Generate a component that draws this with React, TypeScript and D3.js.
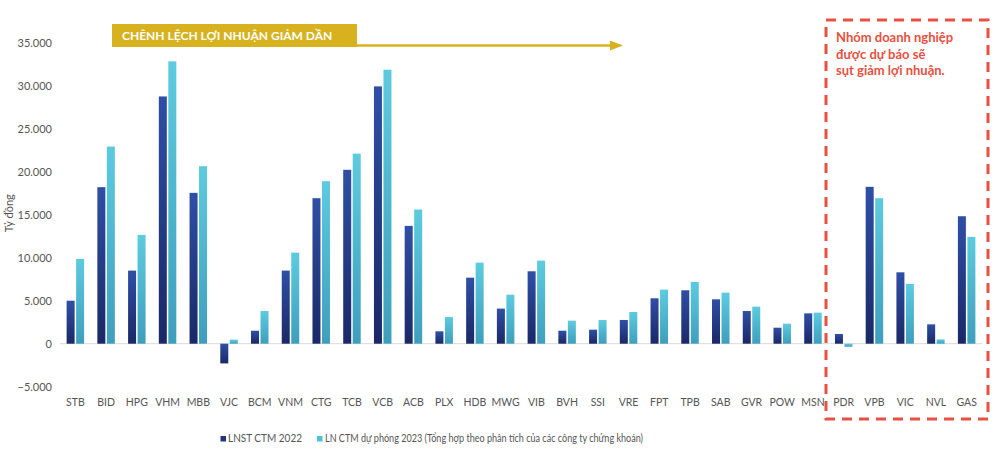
import React from "react";
import * as d3 from "d3";

const categories = ["STB","BID","HPG","VHM","MBB","VJC","BCM","VNM","CTG","TCB","VCB","ACB","PLX","HDB","MWG","VIB","BVH","SSI","VRE","FPT","TPB","SAB","GVR","POW","MSN","PDR","VPB","VIC","NVL","GAS"];
const lnst2022 = [5000,18200,8500,28750,17540,-2290,1510,8500,16920,20220,29920,13700,1440,7680,4080,8420,1510,1630,2760,5280,6210,5160,3800,1860,3530,1130,18240,8300,2250,14820];
const ln2023 = [9860,22930,12650,32830,20640,470,3800,10590,18900,22100,31860,15600,3100,9430,5700,9660,2680,2760,3690,6290,7180,5940,4310,2330,3610,-350,16920,6950,500,12420];
const yTicks = [-5000,0,5000,10000,15000,20000,25000,30000,35000];
const seriesNames = ["LNST CTM 2022","LN CTM dự phóng 2023 (Tổng hợp theo phân tích của các công ty chứng khoán)"];
const bannerText = "CHÊNH LỆCH LỢI NHUẬN GIẢM DẦN";
const noteLines = ["Nhóm doanh nghiệp","được dự báo sẽ","sụt giảm lợi nhuận."];

const fmt = (v: number) => (v === 0 ? "0" : d3.format(",")(v).replace(/,/g, "."));

export default function App() {
  const W = 1000, H = 462;
  const x = d3.scaleBand<string>().domain(categories).range([60, 982]).paddingInner(0).paddingOuter(0);
  const y = d3.scaleLinear().domain([-5000, 35000]).range([386.7, 42.7]);
  const step = x.step();
  const bw = 8;
  const gap = 1.5;
  const font = "Lato, 'Open Sans', sans-serif";
  const gold = "#d7b21e";
  const red = "#e9503f";
  return (
    <svg width={W} height={H} style={{ position: "absolute", left: 0, top: 0, background: "#fff" }} fontFamily={font}>
      <defs>
        <linearGradient id="gDark" x1="0" y1="0" x2="0" y2="1">
          <stop offset="0" stopColor="#2f4fa6" />
          <stop offset="1" stopColor="#1a2866" />
        </linearGradient>
        <linearGradient id="gLight" x1="0" y1="0" x2="0" y2="1">
          <stop offset="0" stopColor="#5dcbdf" />
          <stop offset="1" stopColor="#3e9fbd" />
        </linearGradient>
      </defs>
      {yTicks.map((t) => (
        <text key={t} x={52} y={y(t)} dy="0.35em" textAnchor="end" fontSize={11} fill="#555">{fmt(t)}</text>
      ))}
      <text transform={`translate(13,${(y(0) + y(35000)) / 2 + 20}) rotate(-90)`} textAnchor="middle" fontSize={11} fill="#555">Tỷ đồng</text>
      <line x1={60} x2={982} y1={y(0)} y2={y(0)} stroke="#d9d9d9" strokeWidth={1} />
      {categories.map((c, i) => {
        const cx = (x(c) as number) + step / 2;
        const v1 = lnst2022[i], v2 = ln2023[i];
        return (
          <g key={c}>
            <rect x={cx - gap / 2 - bw} y={y(Math.max(0, v1))} width={bw} height={Math.abs(y(v1) - y(0))} fill="url(#gDark)" />
            <rect x={cx + gap / 2} y={y(Math.max(0, v2))} width={bw} height={Math.abs(y(v2) - y(0))} fill="url(#gLight)" />
            <text x={cx} y={406} textAnchor="middle" fontSize={10.5} fill="#555">{c}</text>
          </g>
        );
      })}
      <rect x={112} y={24} width={245} height={23} fill={gold} />
      <text x={122} y={40} fontSize={12} fontWeight="bold" fill="#fff">{bannerText}</text>
      <line x1={357} x2={612} y1={45.5} y2={45.5} stroke={gold} strokeWidth={2.5} />
      <path d="M610,40.5 L623,45.5 L610,50.5 Z" fill={gold} />
      <rect x={826} y={20} width={162} height={399} fill="none" stroke={red} strokeWidth={3} strokeDasharray="10,7" />
      {noteLines.map((l, i) => (
        <text key={i} x={836} y={42 + i * 16.5} fontSize={13} fontWeight="bold" fill={red}>{l}</text>
      ))}
      <rect x={220.5} y={436} width={5.5} height={5.5} fill="#1f3680" />
      <text x={228} y={442} fontSize={10.5} fill="#555" textLength={74} lengthAdjust="spacingAndGlyphs">{seriesNames[0]}</text>
      <rect x={317} y={436} width={5.5} height={5.5} fill="#4cc3d9" />
      <text x={325} y={442} fontSize={10.5} fill="#555" textLength={318} lengthAdjust="spacingAndGlyphs">{seriesNames[1]}</text>
    </svg>
  );
}
